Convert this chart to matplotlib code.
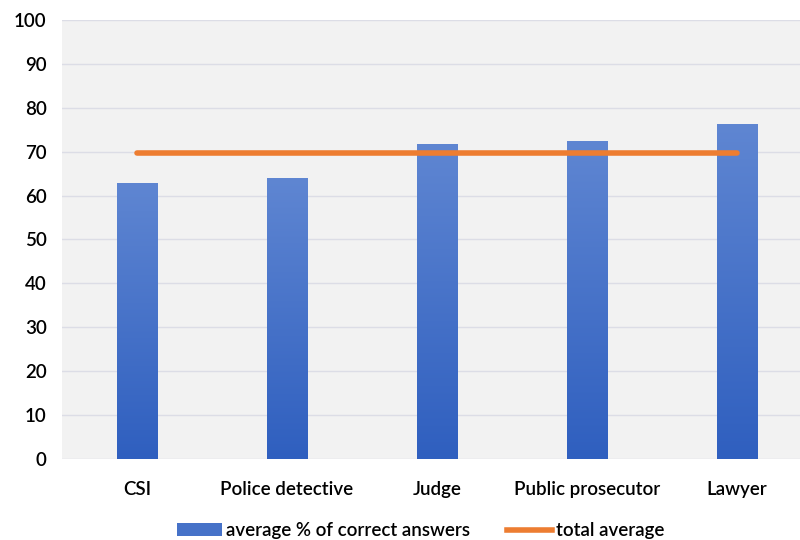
import numpy as np
import matplotlib.pyplot as plt
from matplotlib.colors import LinearSegmentedColormap
from matplotlib.lines import Line2D
from matplotlib.patches import Patch

categories = ['CSI', 'Police detective', 'Judge', 'Public prosecutor', 'Lawyer']
avg_correct = [62.9, 64.0, 71.8, 72.4, 76.3]
total_average = [69.6, 69.6, 69.6, 69.6, 69.6]
y_ticks = [0, 10, 20, 30, 40, 50, 60, 70, 80, 90, 100]

plt.rcParams['font.family'] = ['Lato', 'DejaVu Sans']
plt.rcParams['font.weight'] = 'semibold'

fig = plt.figure(figsize=(8, 5.4), dpi=100)
fig.patch.set_facecolor('white')
# plot area runs a bit past the right edge of the picture
ax = fig.add_axes([0.0775, 0.15, 0.9375, 0.813])
ax.set_facecolor('#f2f2f2')

x = np.arange(len(categories))
bars = ax.bar(x, avg_correct, width=0.27, color='#4672c8', zorder=2)

# vertical gradient in each bar, light at top, dark at bottom
cmap = LinearSegmentedColormap.from_list('bluegrad', ['#2f5fbf', '#5f86d2'])
grad = np.linspace(0, 1, 256).reshape(-1, 1)
for b in bars:
    bx, by = b.get_x(), b.get_y()
    w, h = b.get_width(), b.get_height()
    im = ax.imshow(grad, cmap=cmap, extent=[bx, bx + w, by, by + h],
                   origin='lower', aspect='auto', zorder=2)
    im.set_clip_path(b)
    b.set_facecolor('none')

ax.plot(x, total_average, color='#ed7d31', linewidth=4, solid_capstyle='round', zorder=3)

ax.set_xlim(-0.5, 4.5)
ax.set_ylim(0, 100)
ax.set_yticks(y_ticks)
ax.set_xticks(x)
ax.set_xticklabels(categories)
ax.tick_params(axis='both', length=0, labelsize=13.5, colors='black')
ax.tick_params(axis='y', pad=11)
ax.tick_params(axis='x', pad=16)
ax.grid(axis='y', color='#dcdde6', linewidth=1, zorder=0)
ax.set_axisbelow(True)
for s in ax.spines.values():
    s.set_visible(False)

handles = [Patch(facecolor='#4672c8', label='average % of correct answers'),
           Line2D([0], [0], color='#ed7d31', linewidth=4, label='total average')]
fig.legend(handles=handles, loc='lower center', bbox_to_anchor=(0.526, -0.03), ncol=2,
           frameon=False, fontsize=13.5, handlelength=2.4, handletextpad=0.2,
           columnspacing=2.0)

fig.savefig('out.png', dpi=100)
